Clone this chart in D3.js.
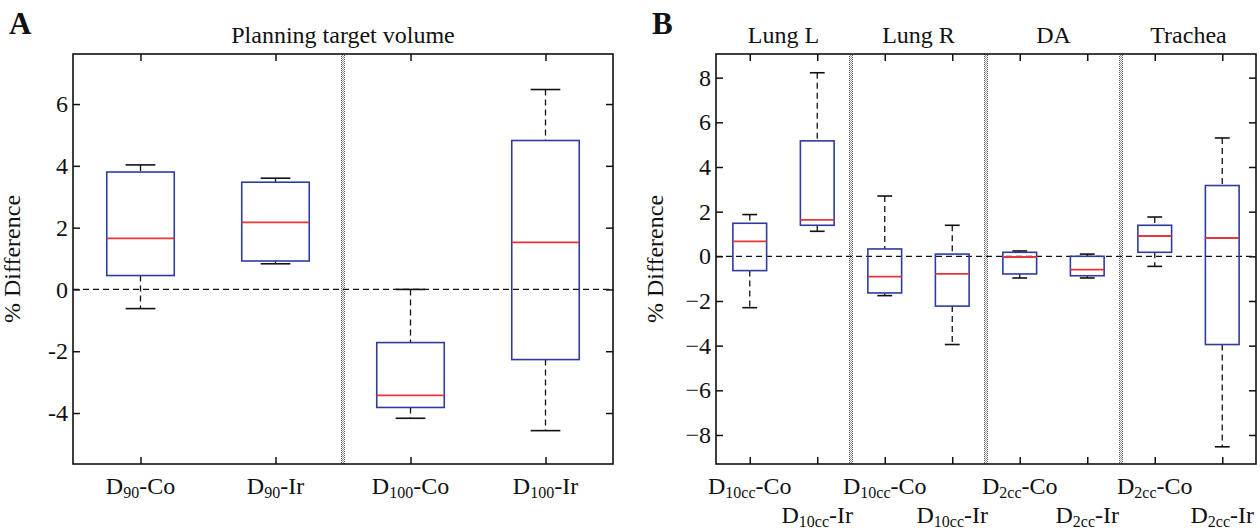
<!DOCTYPE html>
<html>
<head>
<meta charset="utf-8">
<script src="https://cdn.jsdelivr.net/npm/d3@7"></script>
<style>
  body { margin: 0; background: #fff; }
</style>
</head>
<body>
<svg width="1260" height="530"></svg>
<script>
// Panel A: planning target volume
const ptvLabels = ["D_{90}-Co", "D_{90}-Ir", "D_{100}-Co", "D_{100}-Ir"];
const ptvHigh   = [4.03, 3.60, 0.00, 6.47];
const ptvQ3     = [3.80, 3.47, -1.72, 4.82];
const ptvMedian = [1.65, 2.17, -3.43, 1.52];
const ptvQ1     = [0.45, 0.92, -3.82, -2.27];
const ptvLow    = [-0.62, 0.83, -4.17, -4.57];
const ptvYTicks = [-4, -2, 0, 2, 4, 6];
const ptvGroups = ["Planning target volume"];
const ptvSeparators = [2.5];

// Panel B: organs at risk
const oarLabels = ["D_{10cc}-Co", "D_{10cc}-Ir", "D_{10cc}-Co", "D_{10cc}-Ir",
                   "D_{2cc}-Co", "D_{2cc}-Ir", "D_{2cc}-Co", "D_{2cc}-Ir"];
const oarHigh   = [1.87, 8.22, 2.70, 1.39, 0.24, 0.10, 1.76, 5.30];
const oarQ3     = [1.48, 5.17, 0.33, 0.10, 0.18, 0.00, 1.39, 3.17];
const oarMedian = [0.67, 1.63, -0.91, -0.79, -0.03, -0.60, 0.91, 0.82];
const oarQ1     = [-0.64, 1.39, -1.64, -2.23, -0.79, -0.87, 0.18, -3.95];
const oarLow    = [-2.30, 1.12, -1.76, -3.95, -0.97, -0.97, -0.45, -8.53];
const oarYTicks = [-8, -6, -4, -2, 0, 2, 4, 6, 8];
const oarGroups = ["Lung L", "Lung R", "DA", "Trachea"];
const oarSeparators = [2.5, 4.5, 6.5];

const serif = "'Liberation Serif', 'DejaVu Serif', serif";
const svg = d3.select("svg").attr("font-family", serif);
const plotTop = 54, plotBottom = 464;
const fs = 24;

function panel(opts) {
  const {letter, left, right, yDomain, labels, high, q3, med, q1, low, yTicks, groups, seps, minus, stagger} = opts;
  const n = labels.length;
  const g = svg.append("g");

  const x = d3.scaleLinear().domain([0.5, n + 0.5]).range([left, right]);
  const y = d3.scaleLinear().domain(yDomain).range([plotBottom, plotTop]);
  const band = x(2) - x(1);
  const fmt = d => (d < 0 ? minus : "") + Math.abs(d);

  // group separators (dotted grey bar)
  [-1.5, -0.5, 0.5, 1.5].forEach((off, k) => {
    g.selectAll(null).data(seps).join("line")
        .attr("x1", d => x(d) + off).attr("x2", d => x(d) + off)
        .attr("y1", plotTop).attr("y2", plotBottom)
        .attr("stroke", k % 3 === 0 ? "#555" : "#999").attr("stroke-width", 1)
        .attr("stroke-dasharray", "1,1").attr("stroke-dashoffset", k % 2);
  });

  // zero reference
  g.append("line")
      .attr("x1", left).attr("x2", right)
      .attr("y1", y(0)).attr("y2", y(0))
      .attr("stroke", "#111").attr("stroke-width", 1.3)
      .attr("stroke-dasharray", "6,4");

  // boxes
  const idx = d3.range(n);
  const bw = band * 0.5, cw = band * 0.22;
  const b = g.selectAll("g.box").data(idx).join("g").attr("class", "box");
  b.append("line") // upper whisker
      .attr("x1", i => x(i + 1)).attr("x2", i => x(i + 1))
      .attr("y1", i => y(high[i])).attr("y2", i => y(q3[i]))
      .attr("stroke", "#111").attr("stroke-width", 1.3).attr("stroke-dasharray", "6,4");
  b.append("line") // lower whisker
      .attr("x1", i => x(i + 1)).attr("x2", i => x(i + 1))
      .attr("y1", i => y(q1[i])).attr("y2", i => y(low[i]))
      .attr("stroke", "#111").attr("stroke-width", 1.3).attr("stroke-dasharray", "6,4");
  [high, low].forEach(arr => {
    b.append("line")
        .attr("x1", i => x(i + 1) - cw / 2).attr("x2", i => x(i + 1) + cw / 2)
        .attr("y1", i => y(arr[i])).attr("y2", i => y(arr[i]))
        .attr("stroke", "#111").attr("stroke-width", 1.6);
  });
  b.append("rect")
      .attr("x", i => x(i + 1) - bw / 2).attr("width", bw)
      .attr("y", i => y(q3[i])).attr("height", i => y(q1[i]) - y(q3[i]))
      .attr("fill", "none").attr("stroke", "#2e3d9c").attr("stroke-width", 1.6);
  b.append("line")
      .attr("x1", i => x(i + 1) - bw / 2).attr("x2", i => x(i + 1) + bw / 2)
      .attr("y1", i => y(med[i])).attr("y2", i => y(med[i]))
      .attr("stroke", "#e8353c").attr("stroke-width", 1.8);

  // frame + inward ticks
  g.append("rect")
      .attr("x", left).attr("y", plotTop).attr("width", right - left).attr("height", plotBottom - plotTop)
      .attr("fill", "none").attr("stroke", "#111").attr("stroke-width", 1.6);
  const tl = 7;
  g.append("g").attr("transform", `translate(${left},0)`)
      .call(d3.axisRight(y).tickValues(yTicks).tickSize(tl).tickFormat(""))
      .call(a => a.select(".domain").remove());
  g.append("g").attr("transform", `translate(${right},0)`)
      .call(d3.axisLeft(y).tickValues(yTicks).tickSize(tl).tickFormat(""))
      .call(a => a.select(".domain").remove());
  g.append("g").attr("transform", `translate(0,${plotTop})`)
      .call(d3.axisBottom(x).tickValues(d3.range(1, n + 1)).tickSize(tl).tickFormat(""))
      .call(a => a.select(".domain").remove());
  g.append("g").attr("transform", `translate(0,${plotBottom})`)
      .call(d3.axisTop(x).tickValues(d3.range(1, n + 1)).tickSize(tl).tickFormat(""))
      .call(a => a.select(".domain").remove());
  g.selectAll(".tick line").attr("stroke", "#111").attr("stroke-width", 1.5);

  const txt = g.append("g").attr("font-family", serif).attr("fill", "#111");

  // y tick labels
  txt.selectAll("text.yl").data(yTicks).join("text").attr("class", "yl")
      .attr("x", left - 5).attr("y", d => y(d)).attr("dy", "0.34em")
      .attr("text-anchor", "end").attr("font-size", fs)
      .text(fmt);

  // x tick labels with subscripts
  txt.selectAll("text.xl").data(labels).join("text").attr("class", "xl")
      .attr("x", (d, i) => x(i + 1))
      .attr("y", (d, i) => plotBottom + 30 + (stagger && i % 2 ? 29 : 0))
      .attr("text-anchor", "middle").attr("font-size", fs)
      .each(function(d) {
        const m = d.match(/^(.*)_\{(.*)\}(.*)$/);
        const t = d3.select(this);
        t.append("tspan").text(m[1]);
        t.append("tspan").attr("font-size", 16).attr("dy", 4).text(m[2]);
        t.append("tspan").attr("dy", -4).text(m[3]);
      });

  // group titles
  const gw = (right - left) / groups.length;
  txt.selectAll("text.gt").data(groups).join("text").attr("class", "gt")
      .attr("x", (d, i) => left + gw * (i + 0.5)).attr("y", 43)
      .attr("text-anchor", "middle").attr("font-size", fs)
      .text(d => d);

  // y axis title
  txt.append("text")
      .attr("transform", `translate(${left - 53},${(plotTop + plotBottom) / 2}) rotate(-90)`)
      .attr("text-anchor", "middle").attr("font-size", fs)
      .text("% Difference");

  // panel letter
  txt.append("text")
      .attr("x", opts.letterX).attr("y", 34)
      .attr("font-size", 31).attr("font-weight", "bold")
      .text(letter);
}

panel({letter: "A", letterX: 9, left: 73, right: 613, yDomain: [-5.65, 7.62],
  labels: ptvLabels, high: ptvHigh, q3: ptvQ3, med: ptvMedian, q1: ptvQ1, low: ptvLow,
  yTicks: ptvYTicks, groups: ptvGroups, seps: ptvSeparators, minus: "-", stagger: false});

panel({letter: "B", letterX: 652, left: 716, right: 1256, yDomain: [-9.3, 9.06],
  labels: oarLabels, high: oarHigh, q3: oarQ3, med: oarMedian, q1: oarQ1, low: oarLow,
  yTicks: oarYTicks, groups: oarGroups, seps: oarSeparators, minus: "\u2212", stagger: true});
</script>
</body>
</html>
